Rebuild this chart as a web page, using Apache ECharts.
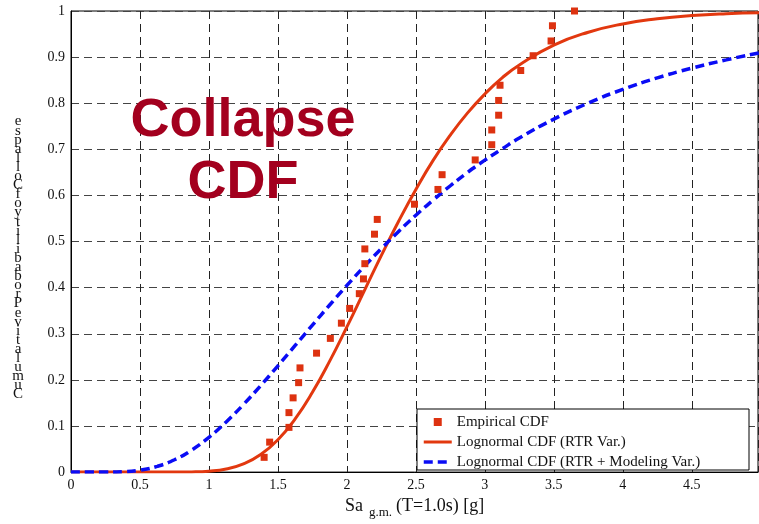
<!DOCTYPE html>
<html>
<head>
<meta charset="utf-8">
<script src="https://cdn.jsdelivr.net/npm/echarts@6/dist/echarts.min.js"></script>
<style>
html,body{margin:0;padding:0;background:#fff;}
#main{width:759px;height:524px;}
</style>
</head>
<body>
<div id="main"></div>
<script>
// x positions (Sa, g) at which the fitted curves were read
const curveX = [0,0.25,0.375,0.5,0.625,0.75,0.875,1,1.125,1.25,1.375,1.5,1.625,1.75,1.875,2,2.125,2.25,2.375,2.5,2.625,2.75,2.875,3,3.125,3.25,3.5,3.75,4,4.25,4.5,4.75,5];
// Lognormal CDF (RTR Var.)
const rtrCdf = [0,0,0,0,0,0.0001,0.0004,0.002,0.0068,0.0177,0.038,0.0703,0.1155,0.173,0.2406,0.315,0.3925,0.470,0.544,0.613,0.676,0.731,0.779,0.820,0.855,0.883,0.926,0.954,0.972,0.983,0.990,0.994,0.996];
// Lognormal CDF (RTR + Modeling Var.)
const rtrModCdf = [0,0.0001,0.0009,0.0043,0.0124,0.0267,0.0478,0.0755,0.1088,0.1466,0.1876,0.2306,0.2746,0.3188,0.3624,0.4048,0.4458,0.4848,0.522,0.5572,0.590,0.621,0.650,0.6765,0.701,0.7245,0.7655,0.8004,0.830,0.855,0.876,0.894,0.910];
// Empirical CDF points
const empX = [1.40,1.44,1.58,1.58,1.61,1.65,1.66,1.78,1.88,1.96,2.02,2.09,2.12,2.13,2.13,2.20,2.22,2.49,2.66,2.69,2.93,3.05,3.05,3.10,3.10,3.11,3.26,3.35,3.48,3.49,3.65];
const empY = [0.032,0.065,0.097,0.129,0.161,0.194,0.226,0.258,0.290,0.323,0.355,0.387,0.419,0.452,0.484,0.516,0.548,0.581,0.613,0.645,0.677,0.710,0.742,0.774,0.806,0.839,0.871,0.903,0.935,0.968,1.0];
const seriesNames = ['Empirical CDF','Lognormal CDF (RTR Var.)','Lognormal CDF (RTR + Modeling Var.)'];
const yAxisLetters = 'espalloCfoytilibaborPevitalumuC';

const zip = (a,b)=>a.map((v,i)=>[v,b[i]]);
const serif = '"Liberation Serif", "Times New Roman", serif';
const hideSym = {color:'rgba(0,0,0,0)',borderWidth:0,opacity:0};
const chart = echarts.init(document.getElementById('main'), null, {renderer:'canvas'});
chart.setOption({
  animation:false,
  backgroundColor:'#fff',
  grid:{left:71,right:1,top:11,bottom:45,show:true,borderColor:'#000',borderWidth:1,backgroundColor:'transparent'},
  xAxis:{
    type:'value',min:0,max:4.98,interval:0.5,
    axisLine:{show:true,lineStyle:{color:'#000',width:1}},
    axisTick:{show:false},
    axisLabel:{showMaxLabel:false,margin:6,color:'#111',fontFamily:serif,fontSize:14},
    splitLine:{show:true,lineStyle:{color:'#222',type:[8,5],width:1}},
    name:'{a|Sa}{b|g.m.}{c|(T=1.0s) [g]}',
    nameLocation:'middle',nameGap:16,
    nameTextStyle:{
      rich:{
        a:{fontFamily:serif,fontSize:18,color:'#111',verticalAlign:'top',padding:[0,3,0,0]},
        b:{fontFamily:serif,fontSize:13,color:'#111',verticalAlign:'top',padding:[9,4,0,3]},
        c:{fontFamily:serif,fontSize:18,color:'#111',verticalAlign:'top'}
      }
    }
  },
  yAxis:{
    type:'value',min:0,max:1,interval:0.1,
    axisLine:{show:true,lineStyle:{color:'#000',width:1}},
    axisTick:{show:false},
    axisLabel:{margin:6,color:'#111',fontFamily:serif,fontSize:14},
    splitLine:{show:true,lineStyle:{color:'#444',type:[8,5],width:1}}
  },
  legend:{
    orient:'vertical',left:417,top:409,
    padding:[5,6,4,5],itemGap:4,itemWidth:28,itemHeight:8,
    symbolKeepAspect:true,
    backgroundColor:'transparent',borderWidth:0,
    textStyle:{fontFamily:serif,fontSize:15,color:'#111',lineHeight:16},
    data:[
      {name:seriesNames[0],icon:'path://M0,0L10,0L10,10L0,10Z'},
      {name:seriesNames[1],itemStyle:hideSym,lineStyle:{width:3}},
      {name:seriesNames[2],itemStyle:hideSym,lineStyle:{width:3.5}}
    ],
    z:6
  },
  graphic:[
    {type:'rect',z:5,shape:{x:417,y:409,width:332,height:61},style:{fill:'#fff',stroke:'#000',lineWidth:1}},
    {type:'text',z:5,x:243,y:121,style:{text:'Collapse',font:'bold 54px "Liberation Sans", Arial, sans-serif',fill:'#a3001e',align:'center',verticalAlign:'middle'}},
    {type:'text',z:5,x:243,y:183,style:{text:'CDF',font:'bold 54px "Liberation Sans", Arial, sans-serif',fill:'#a3001e',align:'center',verticalAlign:'middle'}},
    {type:'text',z:5,x:18,y:117,style:{text:yAxisLetters.split('').join('\n'),font:'15px "Liberation Serif", serif',fill:'#111',align:'center',verticalAlign:'top',lineHeight:9.1}}
  ],
  series:[
    {name:seriesNames[1],type:'line',data:zip(curveX,rtrCdf),smooth:true,symbol:'none',showSymbol:false,
     lineStyle:{color:'#e2380f',width:3},itemStyle:{color:'#e2380f'},z:2,clip:true},
    {name:seriesNames[2],type:'line',data:zip(curveX,rtrModCdf),smooth:true,symbol:'none',showSymbol:false,
     lineStyle:{color:'#0a0cf5',width:3.5,type:[9,5]},itemStyle:{color:'#0a0cf5'},z:3,clip:true},
    {name:seriesNames[0],type:'scatter',data:zip(empX,empY),symbol:'rect',symbolSize:7,
     itemStyle:{color:'#dd3210',opacity:1},z:4,clip:false}
  ]
});
</script>
</body>
</html>
